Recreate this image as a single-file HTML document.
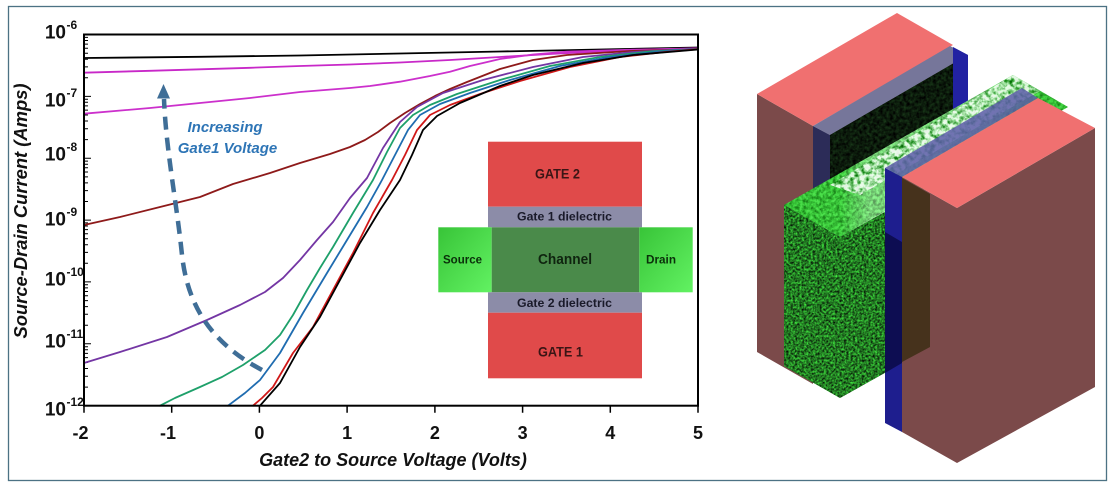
<!DOCTYPE html>
<html><head><meta charset="utf-8"><style>
html,body{margin:0;padding:0;background:#fff;}
svg{display:block;}
text{font-family:"Liberation Sans",Arial,sans-serif;}
</style></head><body>
<svg width="1114" height="487" viewBox="0 0 1114 487" xmlns="http://www.w3.org/2000/svg">
<defs>
 <filter id="gtex" x="0" y="0" width="1" height="1" color-interpolation-filters="sRGB">
  <feTurbulence type="fractalNoise" baseFrequency="0.45" numOctaves="3" seed="4" result="n"/>
  <feColorMatrix in="n" type="matrix" values="0.35 0 0 0 -0.04  1.3 0 0 0 -0.17  0.35 0 0 0 -0.04  0 0 0 0 1" result="c"/>
  <feComposite in="c" in2="SourceGraphic" operator="in"/>
 </filter>
 <filter id="wtex" x="0" y="0" width="1" height="1" color-interpolation-filters="sRGB">
  <feTurbulence type="fractalNoise" baseFrequency="0.2" numOctaves="3" seed="7" result="n"/>
  <feColorMatrix in="n" type="matrix" values="2.6 0 0 0 -0.6  1.6 0 0 0 0.1  2.6 0 0 0 -0.6  0 0 0 0 0.85" result="c"/>
  <feComposite in="c" in2="SourceGraphic" operator="in"/>
 </filter>
 <filter id="btex" x="0" y="0" width="1" height="1" color-interpolation-filters="sRGB">
  <feTurbulence type="fractalNoise" baseFrequency="0.3" numOctaves="3" seed="9" result="n"/>
  <feColorMatrix in="n" type="matrix" values="0.8 0 0 0 -0.2  1.6 0 0 0 -0.05  0.8 0 0 0 -0.2  0 0 0 0 0.5" result="c"/>
  <feComposite in="c" in2="SourceGraphic" operator="in"/>
 </filter>
 <filter id="dtex" x="0" y="0" width="1" height="1" color-interpolation-filters="sRGB">
  <feTurbulence type="fractalNoise" baseFrequency="0.3" numOctaves="2" seed="2" result="n"/>
  <feColorMatrix in="n" type="matrix" values="0.15 0 0 0 -0.03  0.35 0 0 0 -0.07  0.15 0 0 0 -0.03  0 0 0 0 1" result="c"/>
  <feComposite in="c" in2="SourceGraphic" operator="in"/>
 </filter>
 <linearGradient id="topg" x1="784" y1="0" x2="1068" y2="0" gradientUnits="userSpaceOnUse">
  <stop offset="0" stop-color="#34b834"/>
  <stop offset="0.2" stop-color="#3cc03c"/>
  <stop offset="0.3" stop-color="#b8e2b8"/>
  <stop offset="0.7" stop-color="#b0dcb0"/>
  <stop offset="0.8" stop-color="#44c444"/>
  <stop offset="1" stop-color="#34b834"/>
 </linearGradient>
 <linearGradient id="sdg" x1="0" y1="0" x2="1" y2="1">
  <stop offset="0" stop-color="#38c438"/>
  <stop offset="1" stop-color="#62f262"/>
 </linearGradient>
</defs>

<rect x="8.5" y="6.5" width="1098" height="474" fill="#fff" stroke="#4c7284" stroke-width="1.3"/>

<path stroke="#000" stroke-width="1" fill="none" d="
M84,387.1h4M84,376.2h4M84,368.5h4M84,362.5h4M84,357.6h4M84,353.4h4M84,349.8h4M84,346.7h4
M84,325.2h4M84,314.3h4M84,306.6h4M84,300.6h4M84,295.7h4M84,291.5h4M84,287.9h4M84,284.8h4
M84,263.3h4M84,252.4h4M84,244.7h4M84,238.7h4M84,233.8h4M84,229.6h4M84,226h4M84,222.9h4
M84,201.5h4M84,190.6h4M84,182.9h4M84,176.9h4M84,172h4M84,167.8h4M84,164.2h4M84,161.1h4
M84,139.6h4M84,128.7h4M84,121h4M84,115h4M84,110.1h4M84,105.9h4M84,102.3h4M84,99.2h4
M84,77.8h4M84,66.9h4M84,59.2h4M84,53.2h4M84,48.3h4M84,44.1h4M84,40.5h4M84,37.4h4
M84,96.4h7M84,158.2h7M84,220.1h7M84,281.9h7M84,343.8h7"/>
<path stroke="#000" stroke-width="1.5" fill="none" d="M171.7,405.7v7M259.4,405.7v7M347.1,405.7v7M434.9,405.7v7M522.6,405.7v7M610.3,405.7v7M698,405.7v7M84,405.7v7"/>

<rect x="488" y="141.7" width="154" height="65" fill="#e04a4a"/>
<rect x="488" y="206.7" width="154" height="20.6" fill="#8c8ca8"/>
<rect x="438.3" y="227.3" width="53.4" height="65" fill="url(#sdg)"/>
<rect x="491.7" y="227.3" width="147.6" height="65" fill="#4a8a4a"/>
<rect x="639.3" y="227.3" width="53.4" height="65" fill="url(#sdg)"/>
<rect x="488" y="292.3" width="154" height="20.4" fill="#8c8ca8"/>
<rect x="488" y="312.7" width="154" height="65.6" fill="#e04a4a"/>
<text x="557.5" y="178.5" text-anchor="middle" font-size="14" font-weight="bold" fill="#3a1515" textLength="45" lengthAdjust="spacingAndGlyphs">GATE 2</text>
<text x="564.5" y="220.5" text-anchor="middle" font-size="12" font-weight="bold" fill="#1a1a2a" textLength="95" lengthAdjust="spacingAndGlyphs">Gate 1 dielectric</text>
<text x="462.5" y="263.5" text-anchor="middle" font-size="12" font-weight="bold" fill="#0a300a" textLength="39" lengthAdjust="spacingAndGlyphs">Source</text>
<text x="565" y="264" text-anchor="middle" font-size="14.5" font-weight="bold" fill="#0f240f" textLength="54" lengthAdjust="spacingAndGlyphs">Channel</text>
<text x="661" y="263.5" text-anchor="middle" font-size="12" font-weight="bold" fill="#0a300a" textLength="30" lengthAdjust="spacingAndGlyphs">Drain</text>
<text x="564.5" y="307" text-anchor="middle" font-size="12" font-weight="bold" fill="#1a1a2a" textLength="95" lengthAdjust="spacingAndGlyphs">Gate 2 dielectric</text>
<text x="560.5" y="356.5" text-anchor="middle" font-size="14" font-weight="bold" fill="#3a1515" textLength="45" lengthAdjust="spacingAndGlyphs">GATE 1</text>

<g fill="none" stroke-width="1.8" stroke-linejoin="round" stroke-linecap="round">
<polyline stroke="#000" points="84,58 200,56.8 300,55.5 400,53.5 500,51.5 600,49.5 698,47.5"/>
<polyline stroke="#c828c8" points="84,72.7 150,70.8 200,69.3 250,67.8 300,66 350,64.5 400,62.5 450,60 500,57 550,54 600,51.5 650,49.5 698,48.3"/>
<polyline stroke="#cc30cc" points="84,113.7 150,108 200,103 250,98 300,92 350,88 370,86 400,81.7 430,76 450,71.7 470,66 483,63 500,59 533,54.5 567,51.7 633,49.7 698,48.7"/>
<polyline stroke="#8e1a1a" points="84,225 120,217 160,207 200,197 233,184 270,173 300,163 330,154 350,147 365,140 378,132 390,123 405,113 420,104 435,96 450,89 467,82 500,69 533,60 567,55 630,51 698,49"/>
<polyline stroke="#7436a4" points="84,363 120,352 167,337 207,320 240,305 265,292 283,278 300,260 317,240 333,222 350,198 367,178 383,148 400,122 417,107 443,93 483,80 533,67 583,57 633,52 698,48.7"/>
<polyline stroke="#1ea06a" points="160,405.7 175,398 200,387 222,377 243,365 265,350 280,335 293,315 307,290 320,268 333,247 353,213 373,180 387,152 400,128 413,115 430,105 457,94 500,80 550,66 600,57 650,51.5 698,49"/>
<polyline stroke="#1f6cb0" points="228,405.7 245,393 260,380 280,353 303,313 327,273 347,240 367,207 382,180 395,155 408,130 420,115 440,104 470,93 510,80 560,66 610,57 660,51.5 698,49"/>
<polyline stroke="#d01818" points="253,405.7 262,398 273,387 293,353 313,327 333,290 353,253 373,213 392,180 405,155 417,130 430,115 450,105 480,94 520,81 570,67 620,57 665,52 698,49.2"/>
<polyline stroke="#000" points="260,405.7 280,383 300,347 320,317 340,280 360,243 380,210 400,180 412,155 423,130 437,116 460,103 500,86 533,75 583,63 633,55 698,49.5"/>
</g>

<rect x="84" y="34.5" width="614" height="371.2" fill="none" stroke="#000" stroke-width="2"/>

<path d="M262,370 C215,345 188,310 182,255 C177,205 166,150 164,99" fill="none" stroke="#3f6e97" stroke-width="4.5" stroke-dasharray="13 8"/>
<polygon points="163.5,84 157,98.5 170,98.5" fill="#3f6e97"/>
<text x="225" y="132" text-anchor="middle" font-size="15" font-weight="bold" font-style="italic" fill="#2e75b6">Increasing</text>
<text x="227.5" y="153" text-anchor="middle" font-size="15" font-weight="bold" font-style="italic" fill="#2e75b6">Gate1 Voltage</text>

<g font-weight="bold" fill="#111">
<text x="66" y="38.5" text-anchor="end" font-size="19">10</text><text x="66.5" y="29" font-size="12">-6</text>
<text x="66" y="106.5" text-anchor="end" font-size="19">10</text><text x="66.5" y="97" font-size="12">-7</text>
<text x="66" y="160.5" text-anchor="end" font-size="19">10</text><text x="66.5" y="151" font-size="12">-8</text>
<text x="66" y="225.5" text-anchor="end" font-size="19">10</text><text x="66.5" y="216" font-size="12">-9</text>
<text x="66" y="285.5" text-anchor="end" font-size="19">10</text><text x="66.5" y="276" font-size="12">-10</text>
<text x="66" y="347.5" text-anchor="end" font-size="19">10</text><text x="66.5" y="338" font-size="12">-11</text>
<text x="66" y="415.5" text-anchor="end" font-size="19">10</text><text x="66.5" y="406" font-size="12">-12</text>
</g>
<g font-weight="bold" fill="#111" font-size="18" text-anchor="middle">
<text x="80.5" y="439">-2</text>
<text x="168" y="439">-1</text>
<text x="259.4" y="439">0</text>
<text x="347.1" y="439">1</text>
<text x="434.9" y="439">2</text>
<text x="522.6" y="439">3</text>
<text x="610.3" y="439">4</text>
<text x="698" y="439">5</text>
</g>
<text x="393" y="466" text-anchor="middle" font-size="18" font-weight="bold" font-style="italic" fill="#111">Gate2 to Source Voltage (Volts)</text>
<text transform="translate(27,211) rotate(-90)" text-anchor="middle" font-size="18" font-weight="bold" font-style="italic" fill="#111" textLength="255" lengthAdjust="spacingAndGlyphs">Source-Drain Current (Amps)</text>

<!-- 3D DEVICE -->
<polygon points="757,94 813,126 813,384 757,352" fill="#7b4a4a"/>
<polygon points="757,94 897,13 953,45 813,126" fill="#f07070"/>
<polygon points="813,126 950,46 968,55 830,135" fill="#76769a"/>
<polygon points="813,126 830,135 830,215 813,205" fill="#2c2c58"/>
<polygon points="830,135 954,63 954,135 830,205" fill="#0b120b"/>
<polygon points="830,135 954,63 954,135 830,205" fill="#0b120b" filter="url(#dtex)"/>
<polygon points="953,47 968,55 968,125 953,132" fill="#2222a2"/>
<polygon points="784,205 1013,75 1068,107 840,237" fill="url(#topg)"/>
<polygon points="784,205 1013,75 1068,107 840,237" fill="#fff" filter="url(#btex)"/>
<polygon points="830,185 1013,75 1040,91 860,195" fill="#fff" filter="url(#wtex)"/>
<polygon points="784,205 840,237 840,398 784,366" fill="#2a8a2a"/>
<polygon points="784,205 840,237 840,398 784,366" fill="#2a8a2a" filter="url(#gtex)"/>
<polygon points="840,237 890,209 890,370 840,398" fill="#2a8a2a"/>
<polygon points="840,237 890,209 890,370 840,398" fill="#2a8a2a" filter="url(#gtex)"/>
<polygon points="885,168 1022,88 1038,98 902,177" fill="#5c5ca8" opacity="0.85"/>
<polygon points="885,168 902,177 902,432 885,423" fill="#1e1e8e"/>
<polygon points="885,232 902,242 902,363 885,373" fill="#0a0a48" opacity="0.85"/>
<polygon points="902,177 957,208 1095,128 1095,387 957,463 902,432" fill="#7b4a4a"/>
<polygon points="902,178 930,194 930,347 902,362" fill="#46321c"/>
<polygon points="902,177 1038,98 1095,128 957,208" fill="#f07070"/>
</svg>
</body></html>
